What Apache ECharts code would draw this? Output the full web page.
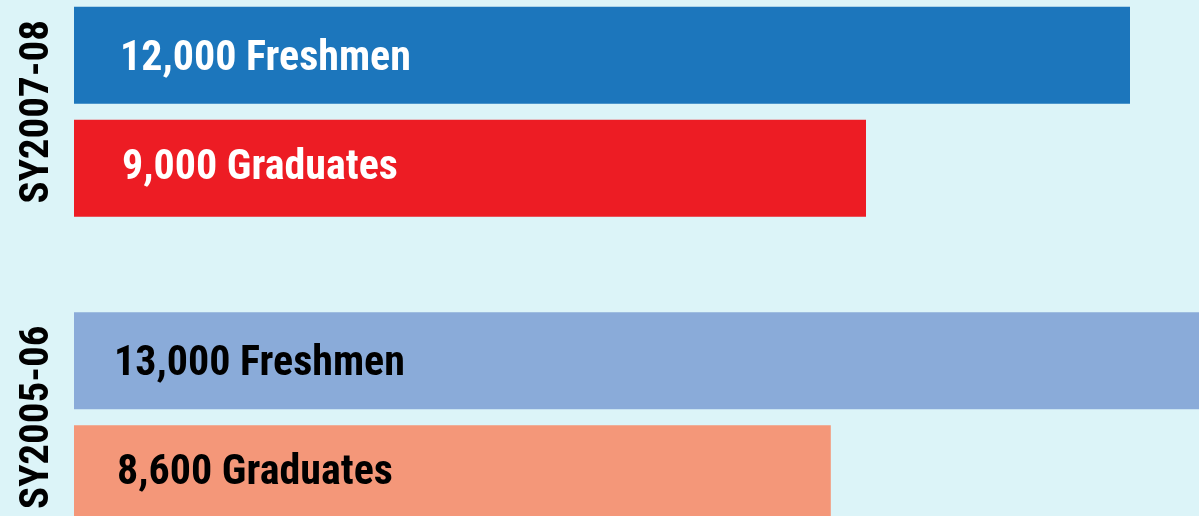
<!DOCTYPE html>
<html>
<head>
<meta charset="utf-8">
<script src="https://cdn.jsdelivr.net/npm/echarts@6/dist/echarts.min.js"></script>
<style>
  html, body { margin: 0; padding: 0; background: #dcf4f8; }
  #chart { width: 1199px; height: 516px; }
</style>
</head>
<body>
<div id="chart"></div>
<script>
// School years, top to bottom
const schoolYears = ['SY2007-08', 'SY2005-06'];
// Enrolment counts per school year
const freshmen = [12000, 13000];
const graduates = [9000, 8600];

const FONT = '"Roboto Condensed", "DejaVu Sans Condensed", sans-serif';

const freshmenColors = ['#1c76bc', '#8aabd9'];
const graduateColors = ['#ed1c24', '#f49779'];
const labelColors = ['#ffffff', '#000000'];
const freshmenOffsets = [[41, 4], [35, 4]];
const graduateOffsets = [[43, 0], [38, 0]];

function fmt(v) {
  return v.toLocaleString('en-US');
}

function buildData(values, colors, offsets, noun) {
  return values.map((v, i) => ({
    value: v,
    itemStyle: { color: colors[i] },
    label: {
      show: true,
      position: 'insideLeft',
      offset: offsets[i],
      color: labelColors[i],
      formatter: () => fmt(v) + ' ' + noun
    }
  }));
}

const chart = echarts.init(document.getElementById('chart'), null, { renderer: 'canvas' });
chart.setOption({
  backgroundColor: '#dcf4f8',
  animation: false,
  grid: { left: 74, width: 1144, top: -41, height: 611, outerBoundsMode: 'none', containLabel: false },
  xAxis: {
    type: 'value',
    min: 0,
    max: 13000,
    show: false
  },
  yAxis: {
    type: 'category',
    data: schoolYears,
    inverse: true,
    axisLine: { show: false },
    axisTick: { show: false },
    splitLine: { show: false },
    axisLabel: {
      interval: 0,
      rotate: 90,
      margin: 16,
      color: '#000',
      fontFamily: FONT,
      fontWeight: 'bold',
      fontSize: 41
    }
  },
  series: [
    {
      name: 'Freshmen',
      type: 'bar',
      barWidth: 97,
      barGap: '16.5%',
      label: { fontFamily: FONT, fontWeight: 'bold', fontSize: 42 },
      data: buildData(freshmen, freshmenColors, freshmenOffsets, 'Freshmen')
    },
    {
      name: 'Graduates',
      type: 'bar',
      barWidth: 97,
      barGap: '16.5%',
      label: { fontFamily: FONT, fontWeight: 'bold', fontSize: 42 },
      data: buildData(graduates, graduateColors, graduateOffsets, 'Graduates')
    }
  ]
});
</script>
</body>
</html>
